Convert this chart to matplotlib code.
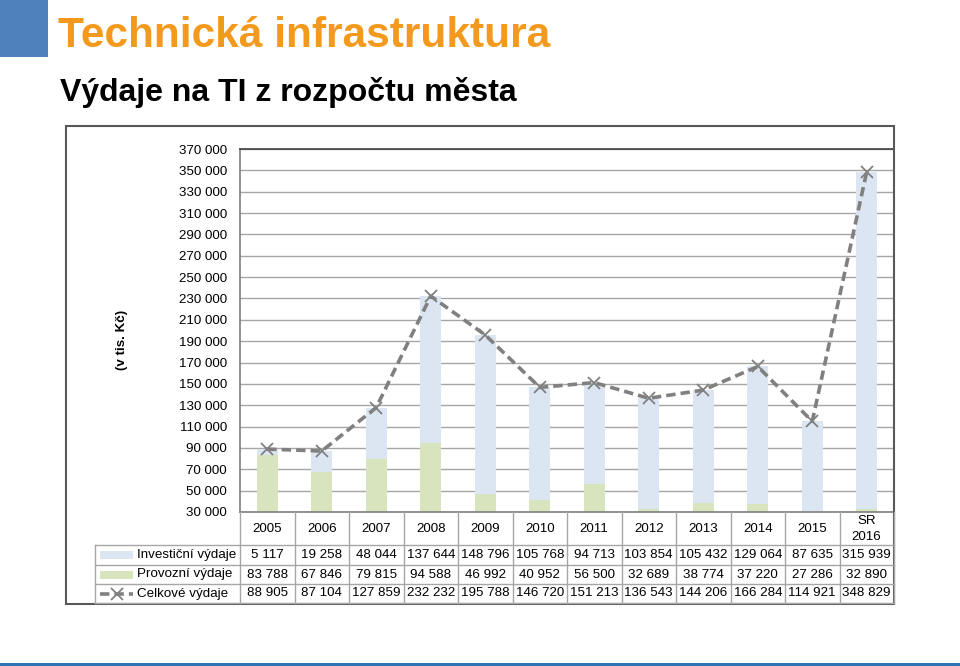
import matplotlib
matplotlib.use('Agg')
import matplotlib.pyplot as plt
from matplotlib.patches import Rectangle
from matplotlib.lines import Line2D
import numpy as np

plt.rcParams['font.family'] = ['Liberation Sans', 'DejaVu Sans']

# ================= DATA =================
years = ['2005', '2006', '2007', '2008', '2009', '2010', '2011',
         '2012', '2013', '2014', '2015', 'SR\n2016']
investicni = [5117, 19258, 48044, 137644, 148796, 105768, 94713,
              103854, 105432, 129064, 87635, 315939]
provozni = [83788, 67846, 79815, 94588, 46992, 40952, 56500,
            32689, 38774, 37220, 27286, 32890]
celkove = [88905, 87104, 127859, 232232, 195788, 146720, 151213,
           136543, 144206, 166284, 114921, 348829]
row_names = ['Investiční výdaje', 'Provozní výdaje', 'Celkové výdaje']

c_inv = '#DCE6F2'
c_prov = '#D7E4BD'
c_line = '#808080'
c_grid = '#A6A6A6'
fs = 9.6

W, H = 960, 666
fig = plt.figure(figsize=(9.6, 6.66), dpi=100)


def fx(x):
    return x / W


def fy(y):
    return 1 - y / H


def hline(x0, x1, y, color=c_grid, lw=1.0):
    fig.add_artist(Line2D([fx(x0), fx(x1)], [fy(y), fy(y)], color=color, lw=lw))


def vline(x, y0, y1, color=c_grid, lw=1.0):
    fig.add_artist(Line2D([fx(x), fx(x)], [fy(y0), fy(y1)], color=color, lw=lw))


# ---- header ----
fig.add_artist(Rectangle((0, fy(57)), fx(48), 57 / H, color='#4F81BD', lw=0))
fig.text(fx(58), fy(36), 'Technická infrastruktura', color='#F39A1E',
         fontsize=30.5, fontweight='bold', va='center', ha='left')
fig.text(fx(60), fy(93), 'Výdaje na TI z rozpočtu města', color='black',
         fontsize=23, fontweight='bold', va='center', ha='left')
fig.add_artist(Rectangle((0, 0), 1, 3 / H, color='#2E75B6', lw=0))

# ---- chart area ----
L, R, T, B = 240, 894, 149, 512
ax = fig.add_axes([fx(L), fy(B), (R - L) / W, (B - T) / H])
x = np.arange(len(years))
bw = 0.39
base = 30000
prov_vis = [p - base for p in provozni]
ax.bar(x, prov_vis, bw, bottom=base, color=c_prov, zorder=2)
ax.bar(x, investicni, bw, bottom=provozni, color=c_inv, zorder=2)
ax.plot(x, celkove, color=c_line, lw=2.6, ls=(0, (2.6, 1.4)),
        marker='x', ms=8, mew=1.3, zorder=3)

ax.set_xlim(-0.5, len(years) - 0.5)
ax.set_ylim(30000, 370000)
yt = np.arange(30000, 370001, 20000)
ax.set_yticks(yt)
ax.set_yticklabels([f'{v:,}'.replace(',', ' ') for v in yt], fontsize=fs)
ax.tick_params(axis='y', length=0, pad=9.5)
ax.set_xticks([])
ax.grid(axis='y', color=c_grid, lw=1, zorder=0)
for s in ['left', 'bottom']:
    ax.spines[s].set_color('#7F7F7F')
    ax.spines[s].set_linewidth(1.2)
ax.spines['top'].set_color('#404040')
ax.spines['top'].set_linewidth(1.2)
ax.spines['right'].set_visible(False)

fig.text(fx(122), fy(340), '(v tis. Kč)', rotation=90, fontsize=fs,
         fontweight='bold', ha='center', va='center')

# ---- data table ----
cw = (R - L) / len(years)
rows_y = [545, 565, 584, 603]
for k in range(len(years) + 1):
    vline(L + k * cw, B, rows_y[-1])
vline(95, rows_y[0], rows_y[-1])
for yy in rows_y:
    hline(95, R, yy)

for k, yr in enumerate(years):
    fig.text(fx(L + (k + 0.5) * cw), fy(529), yr, fontsize=fs,
             ha='center', va='center', linespacing=1.35)

table_vals = [investicni, provozni, celkove]
for r, vals in enumerate(table_vals):
    yc = (rows_y[r] + rows_y[r + 1]) / 2
    fig.text(fx(137), fy(yc), row_names[r], fontsize=fs, ha='left', va='center')
    for k, v in enumerate(vals):
        fig.text(fx(L + (k + 0.5) * cw), fy(yc), f'{v:,}'.replace(',', ' '),
                 fontsize=fs, ha='center', va='center')

# legend keys
for r, col in enumerate([c_inv, c_prov]):
    yc = (rows_y[r] + rows_y[r + 1]) / 2
    fig.add_artist(Rectangle((fx(100), fy(yc + 4)), 33 / W, 8 / H, color=col, lw=0))
yc = (rows_y[2] + rows_y[3]) / 2
fig.add_artist(Line2D([fx(100), fx(133)], [fy(yc), fy(yc)], color=c_line,
                      lw=2.6, ls=(0, (2.6, 1.4))))
fig.add_artist(Line2D([fx(116.5)], [fy(yc)], color=c_line, marker='x',
                      ms=8, mew=1.3, ls='none'))

# ---- outer frame ----
fig.add_artist(Rectangle((fx(66), fy(604)), (R - 66) / W, (604 - 126) / H,
                         fill=False, ec='#595959', lw=1.5))

fig.savefig('out.png', dpi=100)
